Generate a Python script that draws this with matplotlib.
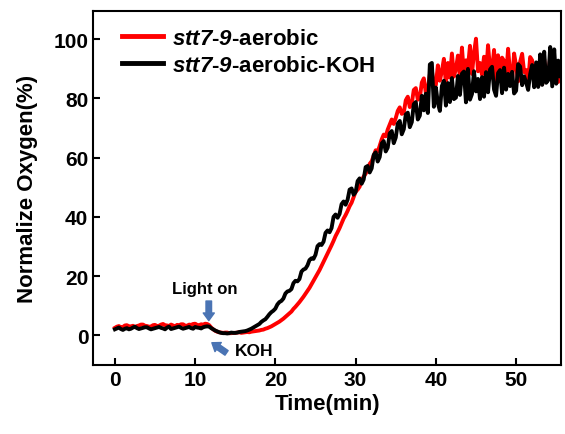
import numpy as np
import matplotlib.pyplot as plt

plt.rcParams['font.family'] = ['Liberation Sans', 'DejaVu Sans']
plt.rcParams['font.weight'] = 'bold'
plt.rcParams['mathtext.fontset'] = 'custom'
plt.rcParams['mathtext.sf'] = 'Liberation Sans:italic:bold'
plt.rcParams['mathtext.rm'] = 'Liberation Sans:bold'

# time axis, one reading every 0.25 min
time = np.arange(0, 56, 0.25)

aerobic = [
    2.5, 2.9, 3.1, 2.7, 2.8, 3.3, 3.4, 3.0,
    3.0, 3.2, 2.7, 3.1, 3.3, 3.6, 3.6, 3.2,
    3.1, 2.9, 2.9, 3.4, 3.5, 3.1, 3.2, 3.6,
    3.8, 3.4, 3.3, 3.1, 3.6, 3.3, 3.0, 3.5,
    3.4, 3.7, 3.7, 3.2, 3.2, 3.6, 3.5, 3.8,
    3.9, 3.5, 3.4, 3.7, 3.6, 3.9, 3.8, 3.4,
    2.6, 2.0, 1.5, 1.2, 1.0, 0.9, 0.8, 0.9,
    0.9, 0.7, 0.7, 0.8, 0.8, 0.9, 1.0, 0.8,
    0.9, 1.0, 1.1, 1.0, 1.2, 1.3, 1.4, 1.5,
    1.6, 1.8, 1.9, 2.2, 2.4, 2.7, 3.0, 3.4,
    3.8, 4.2, 4.6, 5.1, 5.6, 6.2, 6.8, 7.4,
    8.0, 8.9, 9.6, 10.4, 11.2, 12.1, 13.0, 14.0,
    15.0, 16.0, 17.2, 18.4, 19.6, 20.8, 22.0, 23.4,
    24.8, 26.2, 27.6, 29.0, 30.4, 31.9, 33.5, 34.8,
    36.2, 37.8, 39.4, 40.6, 42.0, 43.6, 44.8, 46.6,
    48.5, 49.2, 50.2, 52.4, 53.6, 54.6, 56.0, 57.9,
    58.8, 60.6, 62.5, 62.0, 64.0, 66.2, 67.8, 67.2,
    69.5, 71.2, 72.9, 71.4, 73.4, 75.8, 77.0, 74.8,
    75.2, 79.4, 80.6, 77.1, 78.4, 82.9, 83.5, 79.6,
    80.2, 85.4, 86.8, 81.9, 83.0, 88.1, 89.5, 84.2,
    84.6, 91.2, 86.0, 89.3, 93.4, 85.0, 92.0, 87.1,
    95.2, 87.4, 90.0, 94.5, 86.8, 97.2, 88.0, 92.9,
    90.5, 97.8, 88.3, 95.4, 100.2, 89.2, 92.0, 88.0,
    94.1, 87.6, 98.0, 90.2, 89.5, 96.4, 85.9, 94.6,
    86.4, 93.8, 92.7, 87.2, 96.8, 88.5, 86.0, 95.2,
    91.0, 85.8, 92.4, 95.1, 88.9, 89.6, 85.4, 94.0,
    92.9, 86.2, 84.5, 91.8, 90.6, 84.8, 93.2, 86.1,
    87.0, 94.2, 92.5, 86.3, 89.7, 85.6, 91.0, 88.2,
]

aerobic_koh = [
    2.0, 2.3, 2.6, 2.1, 1.8, 2.2, 2.4, 2.0,
    2.2, 2.6, 2.9, 2.4, 2.1, 2.3, 2.5, 2.7,
    2.7, 2.3, 2.0, 2.2, 2.4, 2.6, 2.8, 2.5,
    2.3, 2.0, 2.6, 2.9, 2.1, 2.3, 2.5, 2.7,
    2.9, 2.5, 2.2, 2.4, 2.6, 2.8, 2.4, 2.2,
    2.8, 2.6, 2.5, 2.3, 2.7, 2.9, 3.0, 2.9,
    2.4, 2.0, 1.6, 1.3, 1.0, 0.8, 0.7, 0.7,
    0.6, 0.7, 0.9, 0.8, 0.8, 0.9, 1.1, 1.2,
    1.3, 1.4, 1.6, 1.9, 2.2, 2.6, 3.0, 3.4,
    3.8, 4.5, 5.0, 5.4, 6.2, 7.1, 7.8, 8.3,
    9.0, 10.4, 11.2, 11.6, 12.4, 14.1, 14.8, 15.0,
    15.6, 17.6, 18.4, 18.2, 19.0, 21.5, 22.2, 22.5,
    23.6, 25.4, 26.0, 25.8, 27.2, 30.1, 30.8, 30.5,
    31.6, 34.6, 35.4, 34.8, 36.2, 40.0, 40.8, 39.7,
    41.0, 44.3, 45.2, 44.1, 45.8, 49.2, 49.6, 47.5,
    48.4, 52.1, 53.0, 51.2, 52.6, 56.8, 57.2, 55.0,
    56.4, 60.9, 61.8, 58.7, 60.2, 64.8, 65.6, 62.1,
    63.4, 68.2, 69.0, 64.9, 66.8, 71.5, 72.4, 67.9,
    69.6, 74.6, 75.2, 70.3, 72.0, 78.1, 78.8, 72.9,
    74.2, 80.9, 76.0, 81.6, 75.1, 91.5, 92.0, 77.2,
    83.7, 78.4, 75.8, 84.2, 86.0, 77.6, 85.2, 78.8,
    86.9, 79.8, 80.3, 87.6, 81.2, 88.4, 89.1, 78.7,
    90.0, 79.6, 81.5, 89.2, 82.4, 86.6, 79.8, 87.2,
    80.6, 88.9, 82.1, 89.8, 90.7, 83.0, 80.9, 88.6,
    89.6, 81.8, 90.4, 83.0, 88.3, 84.2, 89.0, 81.7,
    82.6, 91.6, 90.8, 84.5, 87.5, 85.4, 82.9, 88.2,
    91.3, 83.8, 92.2, 83.9, 94.9, 84.6, 95.8, 85.3,
    86.2, 97.4, 84.1, 96.6, 85.0, 92.8, 87.4, 93.6,
]

labels = [r'$\mathsf{stt7}$-$\mathsf{9}$-aerobic', r'$\mathsf{stt7}$-$\mathsf{9}$-aerobic-KOH']

fig = plt.figure(figsize=(5.65, 4.35), dpi=100)
ax = fig.add_axes([0.165, 0.159, 0.828, 0.813])

ax.plot(time, aerobic, color='#ff0000', lw=2.8, label=labels[0])
ax.plot(time, aerobic_koh, color='black', lw=2.8, label=labels[1])

arrow_blue = '#4a74b4'
arrow_style = 'simple,head_length=0.55,head_width=0.8,tail_width=0.4'
ax.annotate('', xy=(11.7, 4.0), xytext=(11.7, 12.5),
            arrowprops=dict(arrowstyle=arrow_style, color=arrow_blue))
ax.text(11.2, 13.4, 'Light on', ha='center', va='bottom', fontsize=12, fontweight='bold')
ax.annotate('', xy=(11.8, -2.0), xytext=(14.2, -6.5),
            arrowprops=dict(arrowstyle=arrow_style, color=arrow_blue))
ax.text(14.9, -5.3, 'KOH', ha='left', va='center', fontsize=12.5, fontweight='bold')

ax.set_xlim(-2.7, 55.6)
ax.set_ylim(-10, 109.5)
ax.set_xticks([0, 10, 20, 30, 40, 50])
ax.set_yticks([0, 20, 40, 60, 80, 100])
ax.tick_params(direction='in', length=5, width=1.5, labelsize=15)
for sp in ax.spines.values():
    sp.set_linewidth(1.5)

ax.set_xlabel('Time(min)', fontsize=16, fontweight='bold', labelpad=3)
ax.set_ylabel('Normalize Oxygen(%)', fontsize=16, fontweight='bold', labelpad=11)

leg = ax.legend(loc='upper left', frameon=False, fontsize=16, handlelength=1.85,
                borderaxespad=0, borderpad=0, labelspacing=0.25, handletextpad=0.4,
                bbox_to_anchor=(0.062, 0.952))
for line in leg.get_lines():
    line.set_linewidth(3.5)

plt.savefig('out.png', dpi=100)
